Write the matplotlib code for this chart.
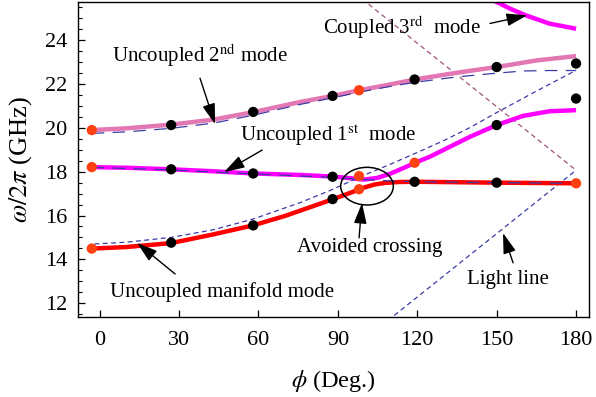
import matplotlib
matplotlib.use("Agg")
import matplotlib.pyplot as plt
from matplotlib.patches import Ellipse
from matplotlib.ticker import MultipleLocator

plt.rcParams['font.family'] = ['Liberation Serif', 'DejaVu Serif']
plt.rcParams['mathtext.fontset'] = 'stix'
plt.rcParams['lines.scale_dashes'] = False

# --- simulated eigenmode points (phi in deg, f in GHz) ---
sim_phi = [-3, 27, 58, 88, 98, 119, 150, 180]
upper_f = [19.90, 20.13, 20.73, 21.46, 21.72, 22.21, 22.78, 22.94]
middle_f = [18.21, 18.11, 17.92, 17.77, 17.80, 18.41, 20.13, 21.34]
lower_f = [14.49, 14.76, 15.55, 16.75, 17.20, 17.54, 17.50, 17.47]
upper_orange = [0, 4]
middle_orange = [0, 4, 5]
lower_orange = [0, 4, 7]

# --- coupled / uncoupled curves ---
mode2_phi = [-3, 10, 27, 43, 58, 76, 88, 98, 110, 119, 135, 150, 165, 180]
mode2_f = [19.90, 19.98, 20.15, 20.38, 20.72, 21.19, 21.46, 21.72, 21.99, 22.21, 22.52, 22.78, 23.08, 23.28]

unc2_phi = [-3, 10, 27, 43, 58, 76, 88, 98, 110, 119, 135, 150, 160, 170, 180]
unc2_f = [19.75, 19.82, 19.98, 20.22, 20.58, 21.08, 21.37, 21.63, 21.90, 22.08, 22.33, 22.50, 22.60, 22.62, 22.62]

mode1_phi = [-3, 10, 27, 43, 58, 76, 88, 95, 100, 105, 110, 115, 119, 125, 132, 140, 150, 160, 170, 180]
mode1_f = [18.21, 18.18, 18.11, 18.02, 17.92, 17.85, 17.78, 17.70, 17.64, 17.72, 17.92, 18.18, 18.40,
           18.70, 19.12, 19.60, 20.13, 20.55, 20.76, 20.81]

unc1_phi = [-3, 27, 58, 88, 100, 110, 120, 150, 180]
unc1_f = [18.20, 18.08, 17.90, 17.74, 17.64, 17.58, 17.54, 17.50, 17.47]

mode0_phi = [-3, 10, 27, 43, 58, 70, 80, 88, 95, 100, 104, 108, 113, 120, 150, 180]
mode0_f = [14.49, 14.56, 14.74, 15.14, 15.55, 15.98, 16.40, 16.74, 17.05, 17.28, 17.42, 17.49, 17.53, 17.54,
           17.50, 17.47]

manifold_phi = [-2, 10, 27, 43, 58, 76, 87, 100, 110, 120, 130, 140, 150, 165, 180]
manifold_f = [14.70, 14.78, 15.00, 15.35, 15.84, 16.60, 17.14, 17.85, 18.35, 18.88, 19.42, 20.02, 20.70,
              21.68, 22.63]

mode3_phi = [146, 148, 150, 155, 161, 170, 180]
mode3_f = [25.98, 25.87, 25.75, 25.45, 25.14, 24.76, 24.53]

light_phi = [99, 180]
light_up_f = [25.90, 18.07]
light_down_f = [10.25, 18.07]

fig = plt.figure(figsize=(5.96, 3.97), dpi=100)
ax = fig.add_axes([0.1309, 0.2023, 0.8574, 0.7927])

blue = '#3b3ba6'
ax.plot(light_phi, light_up_f, color='#a0527f', lw=0.9, dashes=(3.5, 2.5))
ax.plot(light_phi, light_down_f, color=blue, lw=0.9, dashes=(3.5, 2.5))

ax.plot(mode2_phi, mode2_f, color='#e277b4', lw=3.2, solid_capstyle='butt')
ax.plot(mode1_phi, mode1_f, color='#ff00ff', lw=3.2, solid_capstyle='butt')
ax.plot(mode0_phi, mode0_f, color='#ff0000', lw=3.2, solid_capstyle='butt')
ax.plot(mode3_phi, mode3_f, color='#ff00ff', lw=3.2, solid_capstyle='butt')

ax.plot(unc2_phi, unc2_f, color=blue, lw=0.9, dashes=(9, 6))
ax.plot(unc1_phi, unc1_f, color=blue, lw=0.9, dashes=(9, 6))
ax.plot(manifold_phi, manifold_f, color=blue, lw=0.9, dashes=(3.5, 2.5))

for vals, orange in [(upper_f, upper_orange), (middle_f, middle_orange), (lower_f, lower_orange)]:
    cols = ['#ff4010' if i in orange else 'black' for i in range(len(sim_phi))]
    ax.scatter(sim_phi, vals, s=55, c=cols, zorder=5, linewidths=0)

ax.add_patch(Ellipse((101.0, 17.34), 19.9, 1.72, fill=False, color='black', lw=1.1, zorder=6))

arrow = dict(arrowstyle='-|>,head_length=0.9,head_width=0.28', color='black', lw=1.0,
             mutation_scale=14, shrinkA=0, shrinkB=0)
fs = 15
ax.annotate('', xy=(43.6, 20.17), xytext=(37.9, 22.27), arrowprops=arrow)
ax.text(37.9, 23.32, 'Uncoupled 2$^{\\mathrm{nd}}$ mode', fontsize=fs, ha='center', va='center')
ax.annotate('', xy=(47.0, 17.98), xytext=(61.4, 18.99), arrowprops=arrow)
ax.text(86.5, 19.67, 'Uncoupled 1$^{\\mathrm{st}}$  mode', fontsize=fs, ha='center', va='center')
ax.annotate('', xy=(161.5, 25.14), xytext=(147.5, 24.77), arrowprops=arrow)
ax.text(114.1, 24.59, 'Coupled 3$^{\\mathrm{rd}}$  mode', fontsize=fs, ha='center', va='center')
ax.annotate('', xy=(99.1, 16.57), xytext=(98.0, 14.98), arrowprops=arrow)
ax.text(102.2, 14.52, 'Avoided crossing', fontsize=fs, ha='center', va='center')
ax.annotate('', xy=(152.4, 15.2), xytext=(156.2, 13.84), arrowprops=arrow)
ax.text(154.3, 13.06, 'Light line', fontsize=fs, ha='center', va='center')
ax.annotate('', xy=(14.1, 14.75), xytext=(28.5, 13.33), arrowprops=arrow)
ax.text(46.1, 12.51, 'Uncoupled manifold mode', fontsize=fs, ha='center', va='center')

ax.set_xlim(-8.2, 184.9)
ax.set_ylim(11.38, 25.75)
ax.set_xticks([0, 30, 60, 90, 120, 150, 180])
ax.set_yticks([12, 14, 16, 18, 20, 22, 24])
ax.yaxis.set_minor_locator(MultipleLocator(0.5))
ax.tick_params(direction='in', labelsize=16, top=False, right=False, length=5, width=0.9, pad=8)
ax.tick_params(axis='x', pad=10)
ax.tick_params(axis='y', which='minor', direction='in', length=3, width=0.8)
for sp in ax.spines.values():
    sp.set_linewidth(1.0)

ax.set_xlabel('$\\phi$ (Deg.)', fontsize=17.5, labelpad=13)
ax.set_ylabel('$\\omega/2\\pi$ (GHz)', fontsize=19, labelpad=8)

fig.savefig('out.png', dpi=100)
